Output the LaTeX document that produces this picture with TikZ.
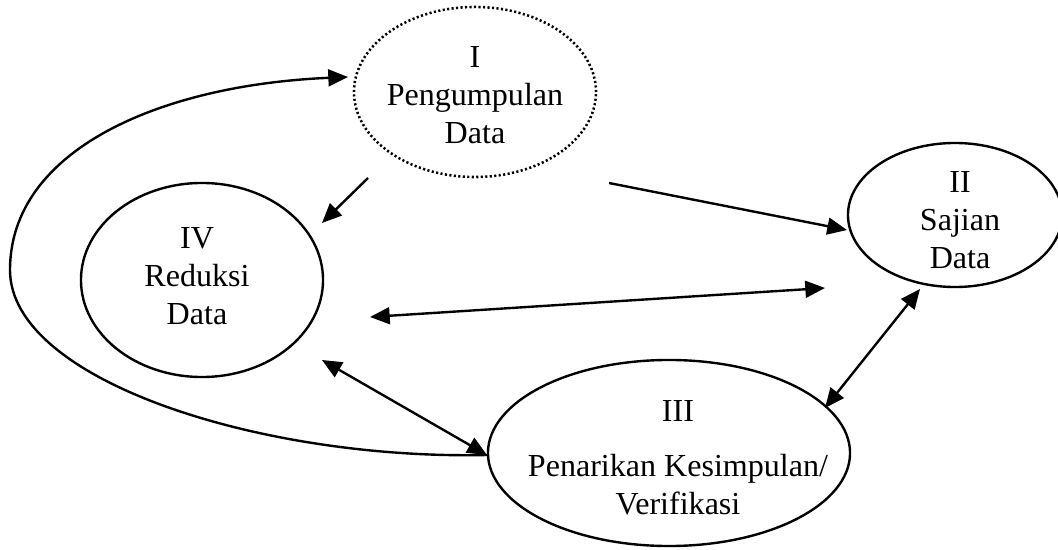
\documentclass[tikz,border=0pt]{standalone}
\usepackage{fontspec}
\setmainfont{Liberation Serif}
\usetikzlibrary{shapes.geometric, arrows.meta}

\tikzset{
  proc/.style={draw, ellipse, line width=1.7pt, inner sep=0pt},
  lbl/.style={align=center, font=\fontsize{22.8}{26.8}\selectfont},
  flow/.style={line width=1.7pt},
  >={Triangle[length=14pt, width=12pt]}
}

\begin{document}
\begin{tikzpicture}[x=0.025cm, y=-0.025cm]
\useasboundingbox (0,0) rectangle (1058,550);

\node[proc, line width=1.8pt, dash pattern=on 1.5pt off 1.7pt, minimum width=6.05cm, minimum height=4.25cm] (kumpul) at (475,92) {};
\node[proc, minimum width=5.35cm, minimum height=3.6cm] (sajian) at (955,215) {};
\node[proc, minimum width=9.05cm, minimum height=4.65cm] (simpul) at (669,453) {};
\node[proc, minimum width=6.05cm, minimum height=4.85cm] (reduksi) at (202,280) {};

\node[lbl] (kumpul-txt) at (475,95) {I\\Pengumpulan\\Data};
\node[lbl] (sajian-txt) at (960,220) {II\\Sajian\\Data};
\node[lbl] (reduksi-txt) at (197,276) {IV\\Reduksi\\Data};
\node[lbl] (simpul-txt) at (678,458) {III\\[0.43cm]Penarikan Kesimpulan/\\Verifikasi};

\coordinate (k1) at (368,178);
\coordinate (r1) at (322,223);
\coordinate (k2) at (609,183);
\coordinate (s1) at (847,230);
\coordinate (r2) at (370,317);
\coordinate (s2) at (825,288);
\coordinate (r3) at (322,360);
\coordinate (p1) at (487,455);
\coordinate (s3) at (920,289);
\coordinate (p2) at (825,408);
\coordinate (k3) at (348,77);

\draw[flow, ->] (k1) -- (r1);
\draw[flow, ->] (k2) -- (s1);
\draw[flow, <->] (r2) -- (s2);
\draw[flow, <->] (r3) -- (p1);
\draw[flow, <->] (s3) -- (p2);

% loop back to data collection
\draw[flow, ->] (p1) .. controls (260,460) and (10,380) .. (10,270)
  .. controls (10,150) and (160,85) .. (k3);

\end{tikzpicture}
\end{document}
